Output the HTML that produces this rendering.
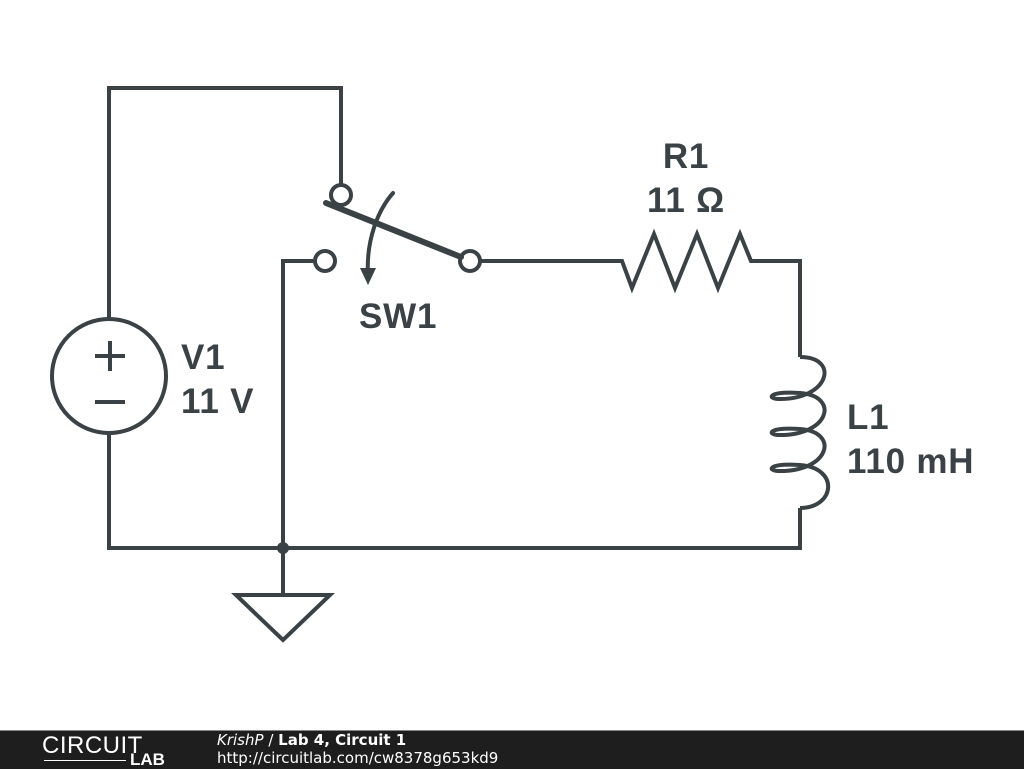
<!DOCTYPE html>
<html><head><meta charset="utf-8"><style>
html,body{margin:0;padding:0;background:#fff;}
body{width:1024px;height:768px;position:relative;overflow:hidden;font-family:"Liberation Sans",sans-serif;}
.lbl{position:absolute;font-weight:bold;color:#3a4246;font-size:35px;line-height:44px;letter-spacing:0.8px;}
#foot{position:absolute;left:0;top:730px;width:1024px;height:38px;background:#1e1e1e;border-top:1px solid #888;}
</style></head><body>
<svg width="1024" height="768" style="position:absolute;left:0;top:0">
<g stroke="#3a4246" stroke-width="4" fill="none" stroke-linejoin="miter">
<polyline points="109,319 109,88 341,88 341,185"/>
<polyline points="109,433 109,548 800,548 800,508"/>
<polyline points="315,261 283,261 283,595"/>
<polyline points="480,261 622,261 632,288 654,234 675,288 697,234 718,288 740,234 751,261 800,261 800,357"/>
<path d="M800,357 C840,357 830,400 778,399 C766,398 770,391 800,393 C840,396 830,436 778,435 C766,434 770,427 800,429 C840,432 830,472 778,471 C766,470 770,463 800,465 C840,468 835,508 800,508"/>
<circle cx="109" cy="376" r="57"/>
<line x1="95" y1="356" x2="125" y2="356"/><line x1="110" y1="341" x2="110" y2="371"/>
<line x1="95" y1="402" x2="125" y2="402"/>
<polygon points="236,595 330,595 283,640"/>
<circle cx="341" cy="195" r="10" fill="#fff"/>
<circle cx="325" cy="261" r="10" fill="#fff"/>
<circle cx="470" cy="261" r="10" fill="#fff"/>
<line x1="326" y1="203" x2="461" y2="257" stroke-width="6" stroke-linecap="round"/>
<path d="M393,193 C378,210 366,240 368,275" stroke-linecap="round"/>
</g>
<polygon points="360,268 376,268 368,285" fill="#3a4246"/>
<circle cx="283" cy="548" r="6" fill="#3a4246"/>
</svg>
<div class="lbl" style="left:181px;top:336px">V1<br>11 V</div>
<div class="lbl" style="left:359px;top:295px">SW1</div>
<div class="lbl" style="left:626px;top:135px;text-align:center;width:120px">R1<br>11 Ω</div>
<div class="lbl" style="left:847px;top:396px">L1<br>110 mH</div>
<div id="foot">
<div style="position:absolute;left:42px;top:1px;color:#fff;font-size:24px;letter-spacing:0.5px;font-weight:300">CIRCUIT</div>
<div style="position:absolute;left:130px;top:19px;color:#fff;font-size:17px;font-weight:bold">LAB</div>
<div style="position:absolute;left:44px;top:29px;width:82px;height:1px;background:#fff"></div>
<div style="position:absolute;left:217px;top:0px;color:#fff;font-size:15px;font-family:'DejaVu Sans',sans-serif"><i>KrishP</i> / <b>Lab 4, Circuit 1</b></div>
<div style="position:absolute;left:217px;top:18px;color:#fff;font-size:15px;font-family:'DejaVu Sans',sans-serif">http://circuitlab.com/cw8378g653kd9</div>
</div>
</body></html>
